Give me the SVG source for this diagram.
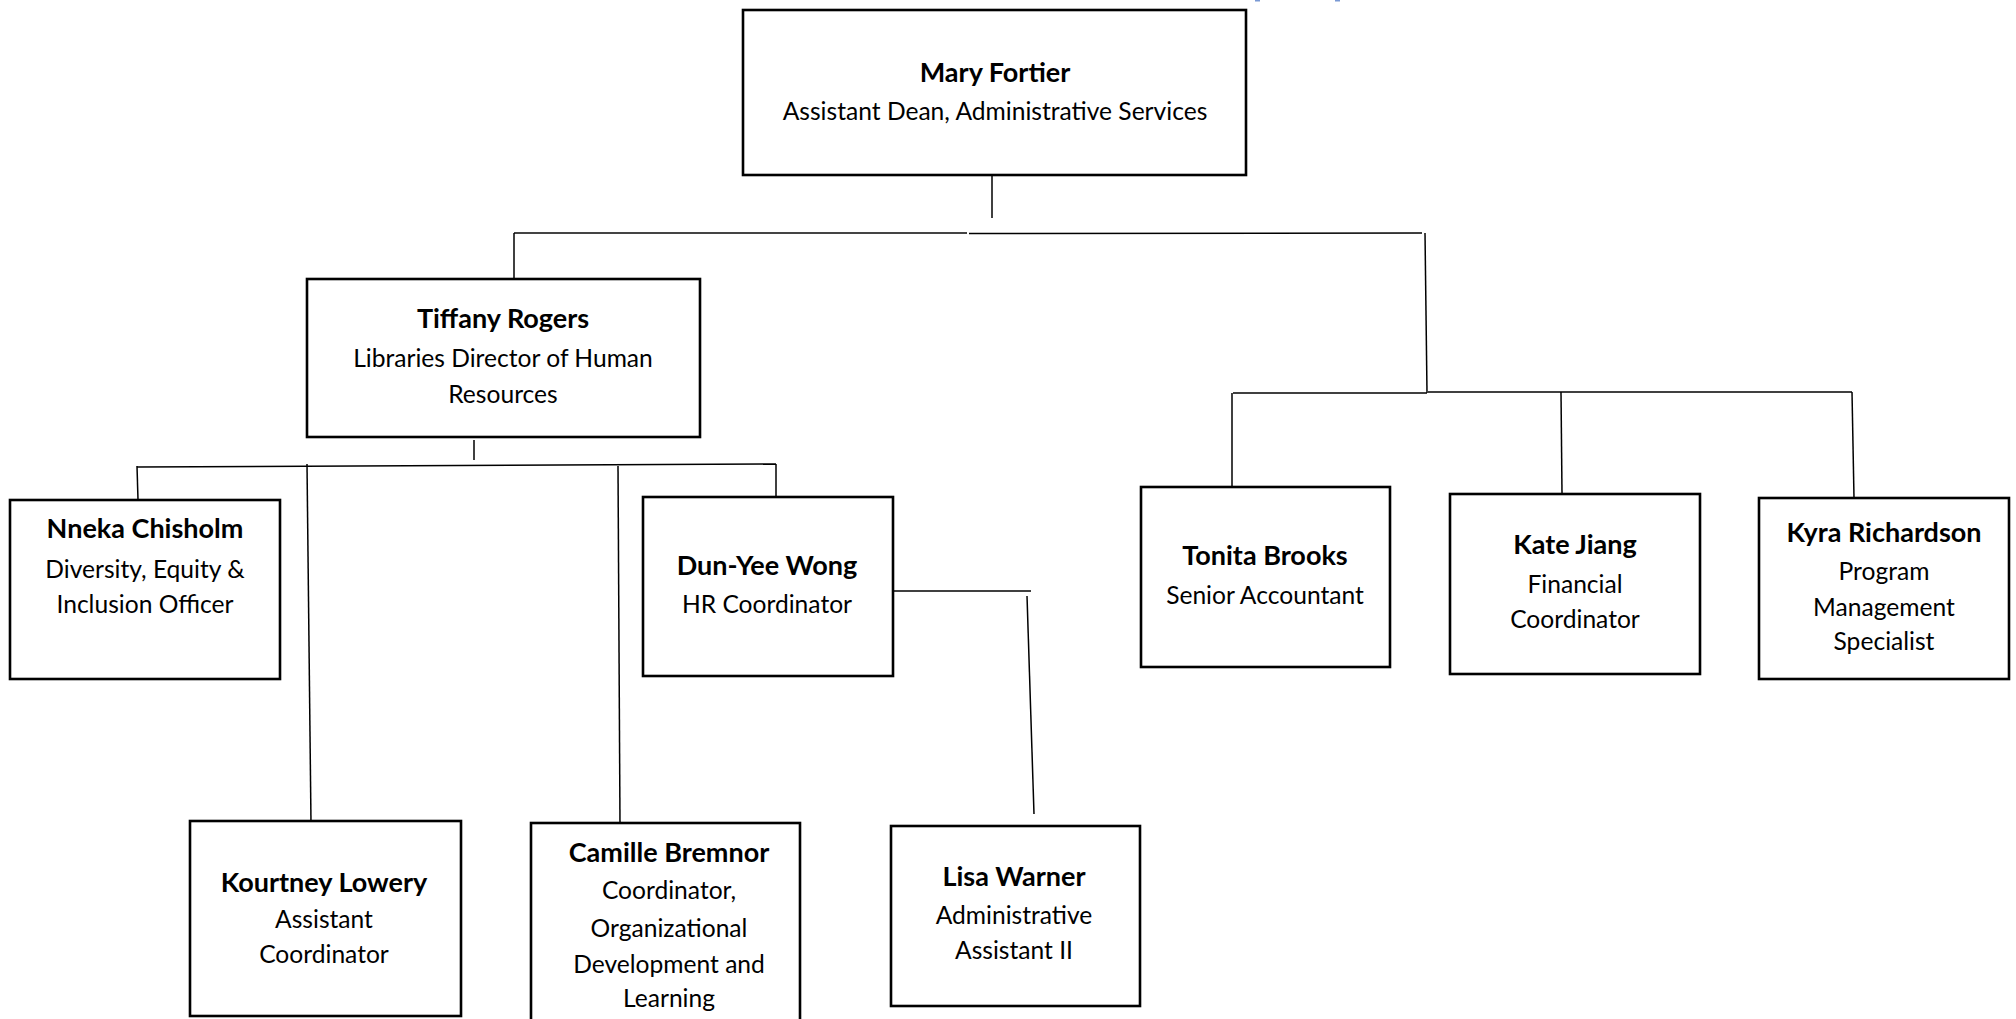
<svg xmlns="http://www.w3.org/2000/svg" width="2016" height="1019" viewBox="0 0 2016 1019">
<style>
.box{fill:#fff;stroke:#000;stroke-width:2.6}
.c{fill:none;stroke:#000;stroke-width:1.5}
.c2{fill:none;stroke:#444;stroke-width:2.2}
text{font-family:Lato,"Liberation Sans",sans-serif;font-size:24.6px;fill:#000;text-anchor:middle}
.n{font-weight:bold;font-size:27px}
</style>
<rect width="2016" height="1019" fill="#fff"/>
<rect x="1255" y="0" width="5" height="1.5" fill="#7a99d4"/>
<rect x="1335" y="0" width="5" height="1.5" fill="#7a99d4"/>
<g id="connectors">
<line class="c" x1="992" y1="176" x2="992" y2="218"/>
<line class="c2" x1="514" y1="233" x2="967" y2="233"/>
<line class="c" x1="969" y1="233.5" x2="1422" y2="233"/>
<line class="c" x1="514" y1="233" x2="514" y2="279"/>
<line class="c" x1="1425" y1="233" x2="1427" y2="393"/>
<line class="c" x1="1233" y1="393" x2="1427" y2="393"/>
<line class="c" x1="1428" y1="392" x2="1852" y2="392"/>
<line class="c" x1="1232" y1="393" x2="1232" y2="487"/>
<line class="c" x1="1561" y1="392" x2="1562" y2="494"/>
<line class="c" x1="1852" y1="392" x2="1854" y2="498"/>
<line class="c" x1="474" y1="440" x2="474" y2="460"/>
<line class="c" x1="137" y1="467" x2="776" y2="464"/>
<line class="c" x1="137" y1="466" x2="138" y2="500"/>
<line class="c" x1="307" y1="464" x2="311" y2="823"/>
<line class="c" x1="618" y1="466" x2="620" y2="825"/>
<line class="c" x1="776" y1="464" x2="776" y2="497"/>
<line class="c" x1="893" y1="591" x2="1031" y2="591"/>
<line class="c" x1="1027" y1="596" x2="1034" y2="814"/>
</g>
<g id="mary">
<rect class="box" x="743" y="10" width="503" height="165"/>
<text class="n" x="995" y="82">Mary Fortier</text>
<text x="995" y="120">Assistant Dean, Administrative Services</text>
</g>
<g id="tiffany">
<rect class="box" x="307" y="279" width="393" height="158"/>
<text class="n" x="503" y="328">Tiffany Rogers</text>
<text x="503" y="367">Libraries Director of Human</text>
<text x="503" y="403">Resources</text>
</g>
<g id="nneka">
<rect class="box" x="10" y="500" width="270" height="179"/>
<text class="n" x="145" y="538">Nneka Chisholm</text>
<text x="145" y="578">Diversity, Equity &amp;</text>
<text x="145" y="613">Inclusion Officer</text>
</g>
<g id="dunyee">
<rect class="box" x="643" y="497" width="250" height="179"/>
<text class="n" x="767" y="575">Dun-Yee Wong</text>
<text x="767" y="613">HR Coordinator</text>
</g>
<g id="tonita">
<rect class="box" x="1141" y="487" width="249" height="180"/>
<text class="n" x="1265" y="565">Tonita Brooks</text>
<text x="1265" y="604">Senior Accountant</text>
</g>
<g id="kate">
<rect class="box" x="1450" y="494" width="250" height="180"/>
<text class="n" x="1575" y="554">Kate Jiang</text>
<text x="1575" y="593">Financial</text>
<text x="1575" y="628">Coordinator</text>
</g>
<g id="kyra">
<rect class="box" x="1759" y="498" width="250" height="181"/>
<text class="n" x="1884" y="542">Kyra Richardson</text>
<text x="1884" y="580">Program</text>
<text x="1884" y="616">Management</text>
<text x="1884" y="650">Specialist</text>
</g>
<g id="kourtney">
<rect class="box" x="190" y="821" width="271" height="195"/>
<text class="n" x="324" y="892">Kourtney Lowery</text>
<text x="324" y="928">Assistant</text>
<text x="324" y="963">Coordinator</text>
</g>
<g id="camille">
<rect class="box" x="531" y="823" width="269" height="205"/>
<text class="n" x="669" y="862">Camille Bremnor</text>
<text x="669" y="899">Coordinator,</text>
<text x="669" y="937">Organizational</text>
<text x="669" y="973">Development and</text>
<text x="669" y="1007">Learning</text>
</g>
<g id="lisa">
<rect class="box" x="891" y="826" width="249" height="180"/>
<text class="n" x="1014" y="886">Lisa Warner</text>
<text x="1014" y="924">Administrative</text>
<text x="1014" y="959">Assistant II</text>
</g>
</svg>
